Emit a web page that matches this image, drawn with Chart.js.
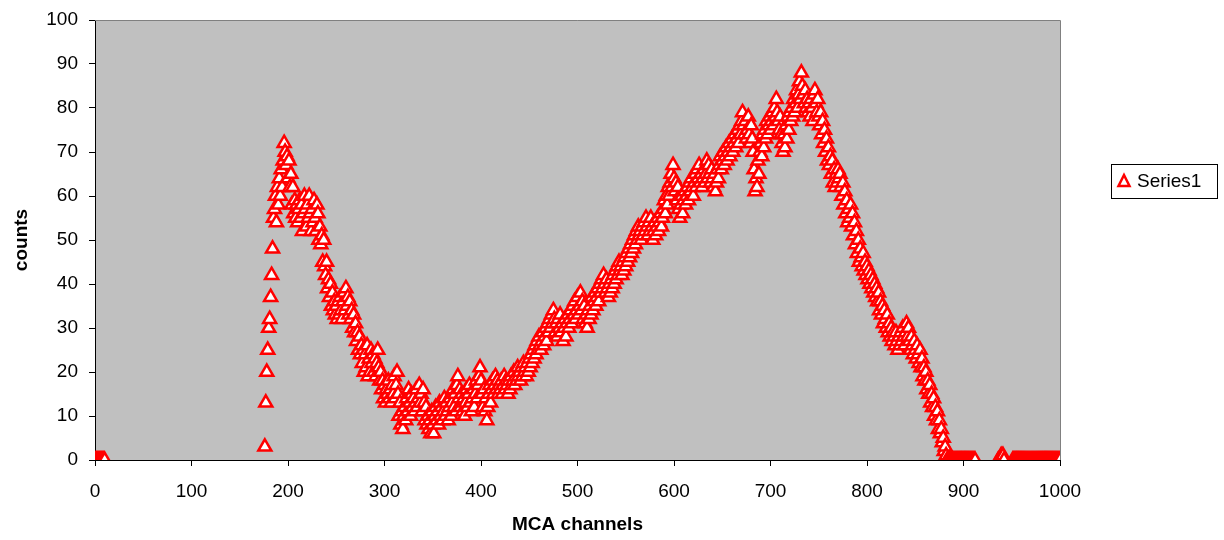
<!DOCTYPE html>
<html>
<head>
<meta charset="utf-8">
<script src="https://cdn.jsdelivr.net/npm/chart.js@4.4.1/dist/chart.umd.min.js"></script>
<style>
  html, body { margin: 0; padding: 0; background: #fff; }
  #wrap { width: 1224px; height: 540px; position: relative; }
</style>
</head>
<body>
<div id="wrap"><canvas id="mcaChart" width="1224" height="540"></canvas></div>
<script>
// ──────── DATA ────────
const seriesName = "Series1";
const xTicks = [0, 100, 200, 300, 400, 500, 600, 700, 800, 900, 1000];
const yTicks = [0, 10, 20, 30, 40, 50, 60, 70, 80, 90, 100];

// zero counts at the very start of the spectrum
const startChannels = [0, 1, 2, 3, 4, 5, 6, 7, 8, 9, 10];
const startCounts   = [0, 0, 0, 0, 0, 0, 0, 0, 0, 0, 0];

// one count per channel, beginning at channel 176
const peakFirstChannel = 176;
const peakCounts = [
  3, 13, 20, 25, 30, 32, 37, 42, 48, 55, 57, 60, 54, 62, 58, 64, 60, 66, 62, 68,
  72, 70, 67, 69, 64, 68, 62, 65, 58, 62, 56, 59, 55, 58, 54, 57, 59, 55, 58, 52,
  56, 60, 57, 53, 58, 55, 60, 56, 52, 57, 54, 59, 55, 52, 58, 56, 50, 53, 49, 51,
  45, 50, 44, 42, 45, 39, 41, 37, 40, 35, 38, 34, 36, 33, 35, 32, 36, 33, 37, 34,
  32, 36, 38, 34, 39, 35, 37, 33, 36, 32, 34, 30, 33, 29, 31, 27, 29, 25, 28, 24,
  26, 22, 25, 20, 24, 21, 26, 19, 23, 20, 25, 22, 24, 20, 23, 19, 22, 25, 21, 18,
  20, 16, 18, 14, 17, 13, 16, 15, 18, 14, 16, 13, 17, 15, 19, 14, 17, 20, 15, 10,
  13, 8, 11, 7, 10, 12, 9, 14, 11, 16, 13, 10, 15, 12, 14, 11, 13, 16, 12, 14,
  17, 13, 15, 11, 16, 13, 9, 12, 8, 10, 7, 9, 6, 11, 8, 6, 10, 12, 9, 11,
  8, 13, 10, 12, 9, 11, 14, 10, 13, 11, 9, 12, 14, 10, 13, 16, 12, 15, 11, 17,
  19, 14, 16, 12, 15, 11, 14, 10, 13, 16, 12, 15, 17, 13, 11, 14, 16, 12, 15, 18,
  14, 17, 19, 21, 18, 15, 12, 16, 11, 14, 9, 12, 15, 17, 13, 16, 18, 15, 17, 19,
  16, 18, 15, 17, 16, 18, 15, 17, 19, 16, 18, 17, 15, 18, 16, 19, 17, 18, 20, 17,
  19, 18, 21, 19, 20, 18, 21, 19, 22, 20, 21, 19, 22, 20, 23, 21, 24, 22, 25, 23,
  26, 24, 27, 25, 28, 26, 25, 27, 29, 26, 28, 30, 27, 31, 29, 32, 30, 33, 31, 34,
  32, 29, 31, 28, 32, 30, 33, 29, 31, 27, 30, 32, 28, 31, 33, 30, 32, 34, 31, 35,
  33, 36, 32, 34, 37, 33, 35, 38, 34, 36, 32, 35, 31, 33, 30, 34, 32, 35, 33, 37,
  34, 36, 38, 35, 37, 39, 36, 40, 38, 41, 39, 42, 40, 38, 41, 39, 37, 40, 38, 41,
  39, 42, 40, 43, 41, 44, 42, 45, 43, 44, 42, 45, 43, 46, 44, 47, 45, 48, 46, 49,
  47, 50, 48, 51, 49, 52, 50, 53, 51, 52, 50, 53, 51, 54, 52, 55, 53, 51, 54, 52,
  55, 53, 50, 52, 54, 51, 53, 55, 52, 54, 56, 53, 55, 57, 59, 56, 60, 58, 62, 60,
  63, 65, 62, 67, 64, 61, 63, 59, 62, 57, 55, 58, 60, 56, 59, 61, 58, 60, 62, 59,
  63, 61, 64, 62, 60, 63, 65, 62, 66, 64, 67, 63, 65, 62, 64, 66, 63, 65, 68, 64,
  67, 65, 63, 66, 64, 62, 65, 61, 63, 66, 64, 67, 69, 66, 68, 70, 67, 69, 71, 68,
  70, 72, 69, 71, 73, 70, 72, 74, 71, 73, 75, 72, 76, 74, 77, 79, 76, 74, 77, 73,
  75, 78, 74, 72, 76, 73, 70, 66, 61, 64, 62, 68, 65, 70, 72, 69, 74, 71, 75, 73,
  77, 74, 76, 78, 75, 77, 79, 76, 80, 78, 82, 79, 77, 75, 78, 74, 72, 70, 74, 71,
  76, 73, 78, 75, 79, 77, 80, 78, 82, 79, 81, 84, 80, 83, 86, 82, 88, 85, 83, 81,
  84, 80, 82, 79, 81, 78, 82, 80, 77, 83, 84, 81, 79, 82, 78, 76, 79, 74, 77, 72,
  75, 70, 73, 68, 71, 67, 69, 65, 68, 63, 66, 62, 65, 63, 66, 64, 65, 62, 60, 63,
  58, 61, 56, 59, 54, 57, 55, 58, 53, 56, 51, 54, 49, 52, 47, 50, 45, 48, 46, 44,
  47, 43, 45, 42, 44, 41, 43, 40, 42, 39, 41, 38, 40, 37, 39, 36, 38, 34, 36, 33,
  35, 31, 34, 32, 30, 33, 29, 31, 28, 30, 27, 29, 28, 26, 29, 27, 25, 28, 26, 29,
  27, 30, 28, 26, 29, 31, 28, 30, 27, 25, 28, 26, 24, 27, 25, 23, 26, 24, 22, 25,
  21, 23, 19, 21, 18, 20, 16, 18, 15, 17, 13, 15, 12, 14, 10, 12, 9, 11, 7, 9,
  6, 7, 4, 5, 2, 3, 1
];

// empty channels at the high end
const tailChannels = [
  883, 884, 885, 886, 887, 888, 889, 890, 891, 892, 893, 894, 895, 896, 897,
  898, 899, 900, 901, 902, 903, 904, 905, 906, 907, 908, 909, 910, 911, 912,
  936, 937, 938, 939, 940, 941, 942,
  951, 952, 953, 954, 955, 956, 957, 958, 959, 960, 961, 962, 963, 964, 965,
  966, 967, 968, 969, 970, 971, 972, 973, 974, 975, 976, 977, 978, 979, 980,
  981, 982, 983, 984, 985, 986, 987, 988, 989, 990, 991, 992, 993, 994, 995,
  996, 997, 998, 999, 1000
];
const tailCounts = [
  0, 0, 0, 0, 0, 0, 0, 0, 0, 0, 0, 0, 0, 0, 0,
  0, 0, 0, 0, 0, 0, 0, 0, 0, 0, 0, 0, 0, 0, 0,
  0, 0, 0, 1, 1, 1, 0,
  0, 0, 0, 0, 0, 0, 0, 0, 0, 0, 0, 0, 0, 0, 0,
  0, 0, 0, 0, 0, 0, 0, 0, 0, 0, 0, 0, 0, 0, 0,
  0, 0, 0, 0, 0, 0, 0, 0, 0, 0, 0, 0, 0, 0, 0,
  0, 0, 0, 0, 0
];

// ──────── BUILD POINTS ────────
const points = [];
startChannels.forEach((c, i) => points.push({ x: c, y: startCounts[i] }));
peakCounts.forEach((v, i) => points.push({ x: peakFirstChannel + i, y: v }));
tailChannels.forEach((c, i) => points.push({ x: c, y: tailCounts[i] }));

// ──────── PLUGINS ────────
const FONT = "'Liberation Sans', Arial, sans-serif";

const plotFrame = {
  id: "plotFrame",
  beforeDraw(chart) {
    const { ctx, chartArea: a } = chart;
    ctx.save();
    ctx.fillStyle = "#c0c0c0";
    ctx.fillRect(a.left, a.top, a.right - a.left, a.bottom - a.top);
    ctx.restore();
  },
  afterDatasetsDraw(chart) {
    const { ctx, chartArea: a } = chart;
    ctx.save();
    ctx.strokeStyle = "#808080";
    ctx.lineWidth = 1;
    ctx.beginPath();
    ctx.moveTo(a.left, a.top + 0.5);
    ctx.lineTo(a.right + 0.5, a.top + 0.5);
    ctx.lineTo(a.right + 0.5, a.bottom);
    ctx.stroke();
    ctx.restore();
  }
};

const boxLegend = {
  id: "boxLegend",
  afterDraw(chart) {
    const ctx = chart.ctx;
    ctx.save();
    ctx.strokeStyle = "#000";
    ctx.lineWidth = 1;
    ctx.strokeRect(1111.5, 164.5, 106, 34);
    // marker
    ctx.strokeStyle = "#ff0000";
    ctx.lineWidth = 2.5;
    ctx.beginPath();
    ctx.moveTo(1124, 175);
    ctx.lineTo(1129.5, 186);
    ctx.lineTo(1118.5, 186);
    ctx.closePath();
    ctx.stroke();
    ctx.fillStyle = "#000";
    ctx.font = "19px " + FONT;
    ctx.textBaseline = "middle";
    ctx.fillText(seriesName, 1137, 182);
    ctx.restore();
  }
};

// ──────── CHART ────────
const ctx = document.getElementById("mcaChart").getContext("2d");
new Chart(ctx, {
  type: "scatter",
  data: {
    datasets: [{
      label: seriesName,
      data: points,
      pointStyle: "triangle",
      pointRadius: 7.5,
      pointBorderWidth: 2.5,
      pointBorderColor: "#ff0000",
      pointBackgroundColor: "#ffffff",
      showLine: false
    }]
  },
  options: {
    responsive: false,
    animation: false,
    devicePixelRatio: 1,
    layout: { autoPadding: false, padding: { top: 20, right: 164, left: 0, bottom: 0 } },
    plugins: {
      legend: { display: false },
      tooltip: { enabled: false }
    },
    scales: {
      x: {
        type: "linear",
        min: 0, max: 1000,
        afterBuildTicks: s => { s.ticks = xTicks.map(v => ({ value: v })); },
        afterFit: s => { s.height = 80; s.paddingLeft = 0; s.paddingRight = 0; },
        grid: { display: true, drawOnChartArea: false, drawTicks: true, tickLength: 6, color: "#000" },
        border: { display: true, color: "#000", width: 1 },
        ticks: { color: "#000", font: { family: FONT, size: 19 }, padding: 14, maxRotation: 0, callback: v => String(v) },
        title: { display: true, text: "MCA channels", color: "#000", font: { family: FONT, size: 19, weight: "bold" }, padding: { top: 8 } }
      },
      y: {
        type: "linear",
        min: 0, max: 100,
        afterBuildTicks: s => { s.ticks = yTicks.map(v => ({ value: v })); },
        afterFit: s => { s.width = 95; s.paddingTop = 0; s.paddingBottom = 0; },
        grid: { display: true, drawOnChartArea: false, drawTicks: true, tickLength: 6, color: "#000" },
        border: { display: true, color: "#000", width: 1 },
        ticks: { color: "#000", font: { family: FONT, size: 19 }, padding: 11, callback: v => String(v) },
        title: { display: true, text: "counts", color: "#000", font: { family: FONT, size: 19, weight: "bold" }, padding: { top: 10, bottom: 4 } }
      }
    }
  },
  plugins: [plotFrame, boxLegend]
});
</script>
</body>
</html>
